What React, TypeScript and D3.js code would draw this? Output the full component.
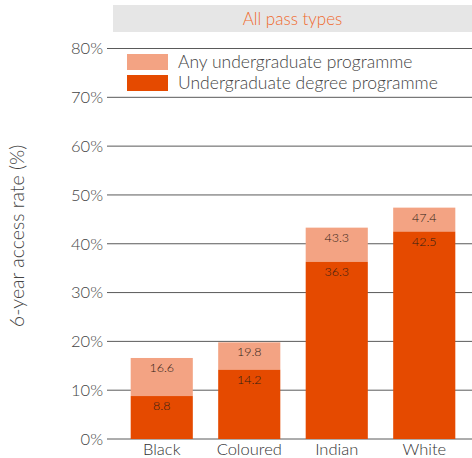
import React from "react";
import * as d3 from "d3";

const categories = ["Black", "Coloured", "Indian", "White"];
const anyProgramme = [16.6, 19.8, 43.3, 47.4];
const degreeProgramme = [8.8, 14.2, 36.3, 42.5];
const yTicks = [0, 10, 20, 30, 40, 50, 60, 70, 80];
const legendLabels = ["Any undergraduate programme", "Undergraduate degree programme"];
const title = "All pass types";
const yLabel = "6-year access rate (%)";

const W = 472;
const H = 458;
const LIGHT = "#f3a383";
const DARK = "#e54a00";
const FONT = "Lato, 'Open Sans', sans-serif";

export default function App() {
  const y = d3.scaleLinear().domain([0, 80]).range([439, 48.5]);
  const x = d3
    .scaleBand<string>()
    .domain(categories)
    .range([118, 468])
    .paddingInner(0.29)
    .paddingOuter(0.145);
  const bw = x.bandwidth();

  return (
    <svg
      width={W}
      height={H}
      style={{ position: "absolute", left: 0, top: 0, display: "block" }}
      fontFamily={FONT}
      fontWeight={300}
    >
      <rect width={W} height={H} fill="#fff" />
      {/* header band */}
      <rect x={113} y={5} width={W - 113} height={27} fill="#e6e6e6" />
      <text x={292.5} y={25} textAnchor="middle" fontSize={17} fill="#f06a2e">
        {title}
      </text>

      {/* gridlines and y tick labels */}
      {yTicks.map((t) => (
        <g key={t}>
          <line x1={107} x2={W} y1={y(t)} y2={y(t)} stroke="#5a5a5a" strokeWidth={1} />
          <text
            x={103}
            y={y(t)}
            dy="0.35em"
            textAnchor="end"
            fontSize={16.5}
            fill="#444"
          >
            {t}%
          </text>
        </g>
      ))}

      {/* y axis title */}
      <text
        transform={`translate(24,${236}) rotate(-90)`}
        textAnchor="middle"
        fontSize={19.5}
        fill="#444"
      >
        {yLabel}
      </text>

      {/* legend */}
      <rect x={113} y={50} width={340} height={44} fill="#fff" />
      <rect x={127} y={54} width={41} height={16} fill={LIGHT} />
      <rect x={127} y={75} width={41} height={16} fill={DARK} />
      <text x={178} y={67.5} fontSize={17.5} fill="#444">
        {legendLabels[0]}
      </text>
      <text x={178} y={89} fontSize={17.5} fill="#444">
        {legendLabels[1]}
      </text>

      {/* bars */}
      {categories.map((c, i) => {
        const x0 = x(c) as number;
        const topAny = y(anyProgramme[i]);
        const topDeg = y(degreeProgramme[i]);
        return (
          <g key={c}>
            <rect x={x0} y={topAny} width={bw} height={topDeg - topAny} fill={LIGHT} />
            <rect x={x0} y={topDeg} width={bw} height={y(0) - topDeg} fill={DARK} />
            <text
              x={x0 + bw / 2}
              y={topAny + 14}
              textAnchor="middle"
              fontSize={12.5}
              fill="#2e1d15"
            >
              {anyProgramme[i].toFixed(1)}
            </text>
            <text
              x={x0 + bw / 2}
              y={topDeg + 14}
              textAnchor="middle"
              fontSize={12.5}
              fill="#2e1d15"
            >
              {degreeProgramme[i].toFixed(1)}
            </text>
            <text
              x={x0 + bw / 2}
              y={455}
              textAnchor="middle"
              fontSize={16.5}
              fill="#333"
            >
              {c}
            </text>
          </g>
        );
      })}
    </svg>
  );
}
